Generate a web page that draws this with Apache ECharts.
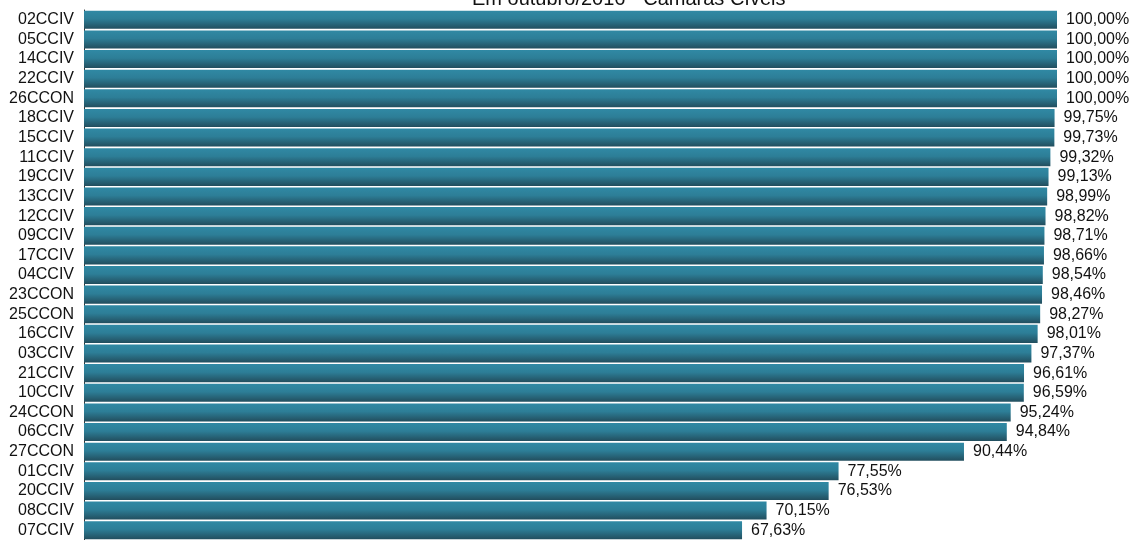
<!DOCTYPE html>
<html>
<head>
<meta charset="utf-8">
<title>Em outubro/2016 - Câmaras Cíveis</title>
<script src="https://cdn.jsdelivr.net/npm/echarts@6/dist/echarts.min.js"></script>
<style>
  html, body { margin: 0; padding: 0; background: #fff; }
  #chart { width: 1132px; height: 540px; }
</style>
</head>
<body>
<div id="chart"></div>
<script>
var titleText = 'Em outubro/2016 - Câmaras Cíveis';

var categories = ['02CCIV', '05CCIV', '14CCIV', '22CCIV', '26CCON', '18CCIV', '15CCIV',
  '11CCIV', '19CCIV', '13CCIV', '12CCIV', '09CCIV', '17CCIV', '04CCIV', '23CCON',
  '25CCON', '16CCIV', '03CCIV', '21CCIV', '10CCIV', '24CCON', '06CCIV', '27CCON',
  '01CCIV', '20CCIV', '08CCIV', '07CCIV'];

var values = [100.00, 100.00, 100.00, 100.00, 100.00, 99.75, 99.73,
  99.32, 99.13, 98.99, 98.82, 98.71, 98.66, 98.54, 98.46,
  98.27, 98.01, 97.37, 96.61, 96.59, 95.24, 94.84, 90.44,
  77.55, 76.53, 70.15, 67.63];

var chart = echarts.init(document.getElementById('chart'));

// bar fill: lighter teal on top, darker at the bottom
var barFill = new echarts.graphic.LinearGradient(0, 0, 0, 1, [
  { offset: 0, color: '#3089a4' },
  { offset: 0.45, color: '#2d7e97' },
  { offset: 1, color: '#224e5e' }
]);

var option = {
  animation: false,
  title: {
    text: titleText,
    left: 467,
    top: -16,
    textStyle: {
      fontFamily: 'Liberation Sans, Arial, sans-serif',
      fontSize: 20,
      fontWeight: 'normal',
      color: '#111'
    }
  },
  grid: {
    left: 84,
    top: 10,
    width: 973,
    height: 534
  },
  xAxis: {
    type: 'value',
    min: 0,
    max: 100,
    show: false
  },
  yAxis: {
    type: 'category',
    data: categories,
    inverse: true,
    axisLine: { lineStyle: { color: '#333', width: 1 } },
    axisTick: { interval: 0, length: 4, lineStyle: { color: '#333' } },
    axisLabel: {
      interval: 0,
      margin: 10,
      fontFamily: 'Liberation Sans, Arial, sans-serif',
      fontSize: 16,
      color: '#111'
    }
  },
  series: [{
    type: 'bar',
    data: values,
    barCategoryGap: '8%',
    itemStyle: { color: barFill },
    label: {
      show: true,
      position: 'right',
      distance: 9,
      fontFamily: 'Liberation Sans, Arial, sans-serif',
      fontSize: 16,
      color: '#111',
      formatter: function (p) {
        return p.value.toFixed(2).replace('.', ',') + '%';
      }
    }
  }]
};

chart.setOption(option);
</script>
</body>
</html>
